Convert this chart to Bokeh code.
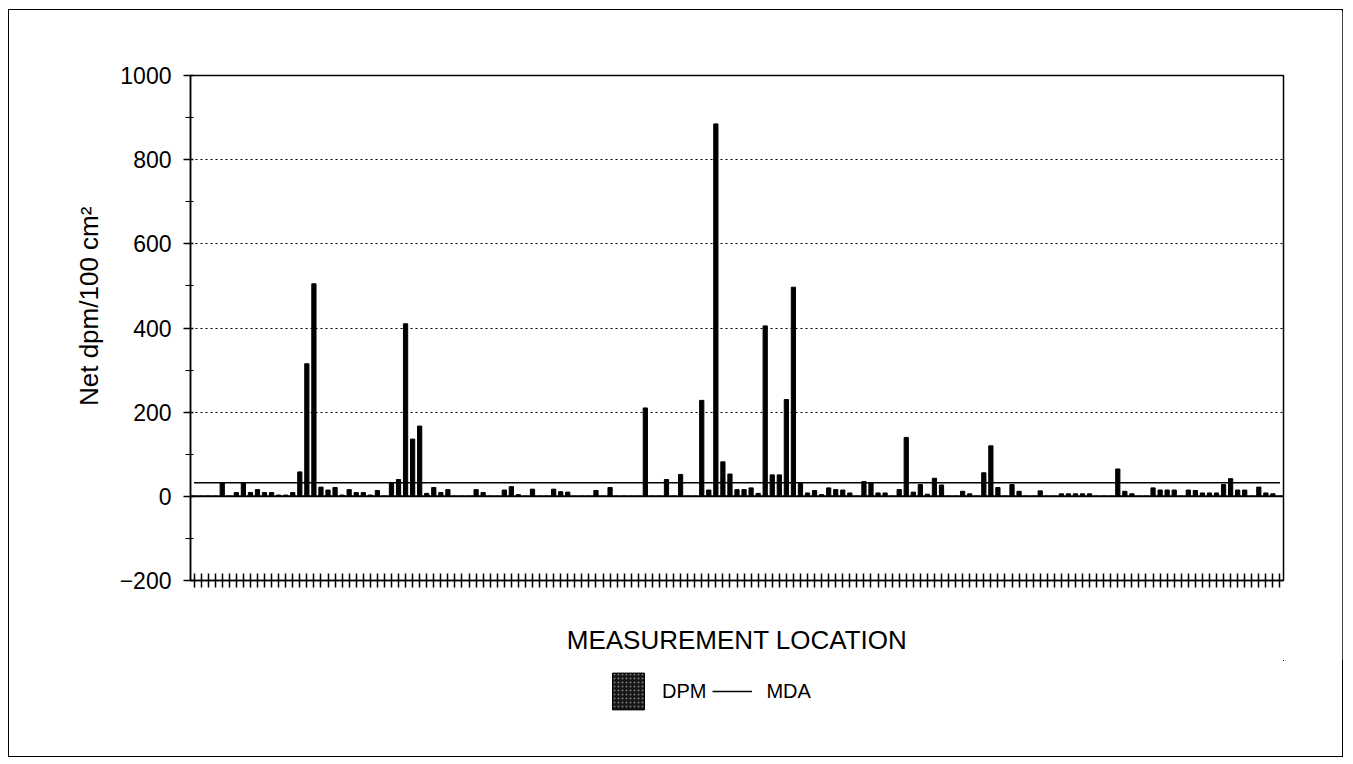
from bokeh.plotting import figure
from bokeh.layouts import column
from bokeh.models import (Range1d, FixedTicker, Span, Legend, LegendItem,
                          ColumnDataSource)
from bokeh.embed import file_html
from bokeh.resources import INLINE

# ---- data ----
locations = list(range(155))
dpm = [
    0, 0, 0, 0, 32, 0, 9, 32, 9, 16,
    9, 9, 3, 3, 9, 58, 315, 505, 22, 15,
    21, 3, 16, 9, 9, 3, 14, 0, 33, 40,
    410, 136, 167, 7, 21, 9, 16, 0, 0, 0,
    16, 9, 0, 0, 15, 23, 4, 0, 17, 0,
    0, 17, 11, 10, 0, 0, 0, 14, 0, 21,
    0, 0, 0, 0, 210, 0, 0, 40, 0, 52,
    0, 0, 228, 15, 885, 82, 53, 16, 16, 20,
    7, 405, 51, 51, 230, 497, 32, 8, 14, 4,
    20, 16, 15, 8, 0, 35, 32, 8, 8, 0,
    16, 140, 10, 28, 5, 43, 27, 0, 0, 12,
    6, 0, 56, 120, 21, 0, 28, 12, 0, 0,
    13, 0, 0, 6, 6, 6, 6, 6, 0, 0,
    0, 65, 12, 6, 0, 0, 20, 15, 15, 15,
    0, 15, 14, 8, 8, 8, 28, 42, 15, 15,
    0, 22, 8, 6, 0,
]
mda = [
    32, 32, 32, 32, 32, 32, 32, 32, 32, 32,
    32, 32, 32, 32, 32, 32, 32, 32, 32, 32,
    32, 32, 32, 32, 32, 32, 32, 32, 32, 32,
    32, 32, 32, 32, 32, 32, 32, 32, 32, 32,
    32, 32, 32, 32, 32, 32, 32, 32, 32, 32,
    32, 32, 32, 32, 32, 32, 32, 32, 32, 32,
    32, 32, 32, 32, 32, 32, 32, 32, 32, 32,
    32, 32, 32, 32, 32, 32, 32, 32, 32, 32,
    32, 32, 32, 32, 32, 32, 32, 32, 32, 32,
    32, 32, 32, 32, 32, 32, 32, 32, 32, 32,
    32, 32, 32, 32, 32, 32, 32, 32, 32, 32,
    32, 32, 32, 32, 32, 32, 32, 32, 32, 32,
    32, 32, 32, 32, 32, 32, 32, 32, 32, 32,
    32, 32, 32, 32, 32, 32, 32, 32, 32, 32,
    32, 32, 32, 32, 32, 32, 32, 32, 32, 32,
    32, 32, 32, 32, 32,
]
y_ticks = [-200, 0, 200, 400, 600, 800, 1000]
y_minor = [-100, 100, 300, 500, 700, 900]
grid_ticks = [200, 400, 600, 800]

FONT = "Liberation Sans"
NBSP = "\u00a0"

src = ColumnDataSource(dict(x=locations, dpm=dpm, mda=mda))

# ---------------- main chart ----------------
p = figure(frame_width=1095, frame_height=505,
           output_backend="svg", toolbar_location=None,
           x_range=Range1d(-0.5, len(locations) - 0.5),
           y_range=Range1d(-200, 1000),
           min_border_left=181, min_border_right=59,
           min_border_top=65, min_border_bottom=80)

bars = p.vbar(x="x", top="dpm", width=0.6, source=src,
              fill_color="black", line_color="black")
zero = Span(location=0, dimension="width", line_color="black", line_width=2)
p.add_layout(zero)
mda_line = p.line(x="x", y="mda", source=src, line_color="black", line_width=1.5)

p.yaxis.ticker = FixedTicker(ticks=y_ticks, minor_ticks=y_minor)
p.yaxis.axis_label = NBSP * 6 + "Net dpm/100 cm²"
p.yaxis.axis_label_text_font = FONT
p.yaxis.axis_label_text_font_style = "normal"
p.yaxis.axis_label_text_font_size = "26px"
p.yaxis.axis_label_text_color = "black"
p.yaxis.axis_label_standoff = 13
p.yaxis.major_label_text_font = FONT
p.yaxis.major_label_text_font_size = "23px"
p.yaxis.major_label_text_color = "black"
p.yaxis.major_label_standoff = 12
p.yaxis.major_tick_out = 7
p.yaxis.major_tick_in = 3
p.yaxis.minor_tick_out = 5
p.yaxis.minor_tick_in = 3
p.yaxis.axis_line_width = 1.5
p.yaxis.major_tick_line_width = 1.5

p.xaxis.ticker = FixedTicker(ticks=locations)
p.xaxis.major_label_overrides = {i: "" for i in locations}
p.xaxis.major_label_text_font_size = "1px"
p.xaxis.major_label_standoff = 0
p.xaxis.major_tick_out = 7
p.xaxis.major_tick_in = 7
p.xaxis.major_tick_line_width = 1.5
p.xaxis.minor_tick_line_color = None
p.xaxis.axis_line_width = 1.5
p.xaxis.axis_label = "MEASUREMENT LOCATION"
p.xaxis.axis_label_text_font = FONT
p.xaxis.axis_label_text_font_style = "normal"
p.xaxis.axis_label_text_font_size = "26px"
p.xaxis.axis_label_text_color = "black"
p.xaxis.axis_label_standoff = 37

p.xgrid.visible = False
p.ygrid.ticker = FixedTicker(ticks=grid_ticks)
p.ygrid.grid_line_color = "black"
p.ygrid.grid_line_dash = "2 3"
p.ygrid.grid_line_width = 1

p.outline_line_color = "black"
p.outline_line_width = 1.5
p.background_fill_color = "white"
p.border_fill_color = "white"

# ---------------- legend strip (same data, glyphs out of view) ----------------
lg = figure(width=1335, height=96, output_backend="svg", toolbar_location=None,
            x_range=Range1d(-1000, -999), y_range=Range1d(-1000, -999),
            x_axis_type=None, y_axis_type=None,
            min_border_left=0, min_border_right=0,
            min_border_top=0, min_border_bottom=0)
lg.grid.visible = False
lg.outline_line_color = None
lg.background_fill_color = "white"
lg.border_fill_color = "white"
lg_bars = lg.vbar(x="x", top="dpm", width=0.6, source=src,
                  fill_color="#151515", line_color="black",
                  hatch_pattern="dot", hatch_color="#7a7a7a", hatch_scale=4)
lg_line = lg.line(x="x", y="mda", source=src, line_color="black", line_width=1.5)

legend = Legend(items=[LegendItem(label="DPM", renderers=[lg_bars]),
                       LegendItem(label="MDA", renderers=[lg_line])],
                orientation="horizontal", location=(418, 42),
                glyph_width=40, glyph_height=46,
                label_text_font=FONT, label_text_font_size="20px",
                label_text_color="black",
                label_standoff=14, spacing=6, padding=0, margin=0,
                border_line_color=None, background_fill_alpha=0)
lg.add_layout(legend, "center")

layout = column(p, lg, spacing=0)
layout.styles = {"border": "1px solid black", "margin-left": "8px",
                 "margin-top": "9px", "width": "1335px"}

open("out.html", "w").write(file_html(layout, INLINE))
